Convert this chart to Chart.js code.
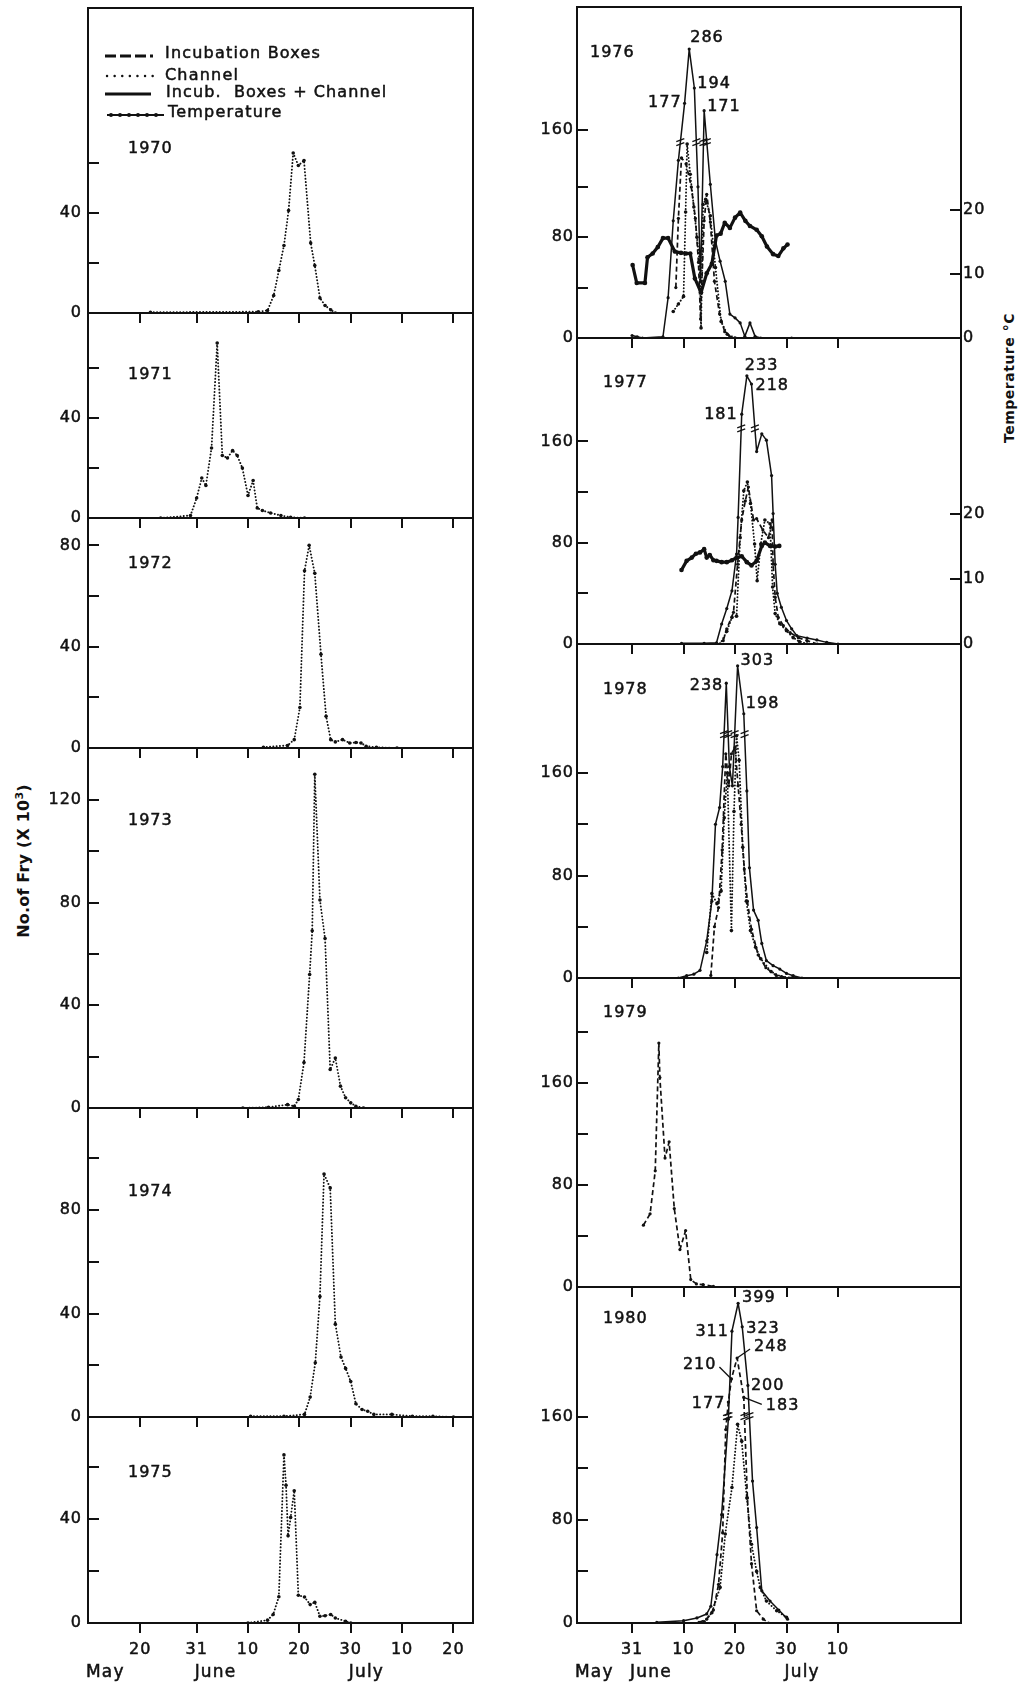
<!DOCTYPE html>
<html>
<head>
<meta charset="utf-8">
<title>Fry emergence 1970-1980</title>
<script src="https://cdn.jsdelivr.net/npm/chart.js@4.4.1/dist/chart.umd.min.js"></script>
<style>
  html, body { margin: 0; padding: 0; background: #fff; }
  body { position: relative; width: 1023px; height: 1684px; overflow: hidden;
         font-family: "DejaVu Sans", sans-serif; color: #111; }
  canvas { position: absolute; }
  .vtitle { position: absolute; white-space: nowrap; transform: translate(-50%, -50%) rotate(-90deg); }
  #fryTitle { left: 23px; top: 861px; font-size: 16px; font-weight: bold; letter-spacing: 0.2px; }
  #tempTitle { left: 1009px; top: 378px; font-size: 14px; font-weight: bold; letter-spacing: 0.5px; }
  sup { font-size: 11px; vertical-align: 6px; line-height: 0; }
</style>
</head>
<body>
<div id="fryTitle" class="vtitle">No.of Fry (X 10<sup>3</sup>)</div>
<div id="tempTitle" class="vtitle">Temperature °C</div>
<script>
const FONT = '"DejaVu Sans", sans-serif';
const INK = "#111";

// x values are day numbers counted from 1 May: 31 = 31 May, 41 = 10 June, 61 = 30 June, 71 = 10 July
const leftTickDays = [20, 31, 41, 51, 61, 71, 81];
const leftTickText = ["20", "31", "10", "20", "30", "10", "20"];
const rightTickDays = [31, 41, 51, 61, 71];
const rightTickText = ["31", "10", "20", "30", "10"];
const monthNames = ["May", "June", "July"];
const monthFirstDay = [1, 31, 61];
const tempTicks = [0, 10, 20];

const yTicks1970 = [0, 20, 40, 60];
const yTicks1971 = [0, 20, 40, 60];
const yTicks1972 = [0, 20, 40, 60, 80];
const yTicks1973 = [0, 20, 40, 60, 80, 100, 120];
const yTicks1974 = [0, 20, 40, 60, 80, 100];
const yTicks1975 = [0, 20, 40, 60];
const yTicksRight = [0, 40, 80, 120, 160];
const yTicks1979 = [0, 40, 80, 120, 160, 200];

// fry counts (thousands); 1970-75 channel only
const days1970 = [22, 43, 44.8, 46, 47, 48, 48.9, 49.8, 50.8, 51.9, 53.2, 54, 55, 56, 57.1, 58];
const chan1970 = [0.3, 0.5, 1, 7, 17, 27, 41, 64, 59, 61, 28, 19, 6, 3, 1.3, 0];

const days1971 = [24, 29.8, 31, 32, 32.8, 33.9, 35, 36, 37, 38, 38.9, 39.9, 41, 42, 42.8, 43.8, 45.4, 47.4, 49.3, 52];
const chan1971 = [0, 1, 8, 16, 13, 28, 70, 25, 24, 27, 25, 20, 9, 15, 4, 3, 2, 1, 0.3, 0];

const days1972 = [44, 48.7, 50, 51.1, 52, 52.9, 54, 55.2, 56.2, 57.1, 58, 59.4, 60.8, 62, 63, 64, 66, 70];
const chan1972 = [0.3, 1, 3.3, 16, 70, 80, 69, 37, 12.5, 3.3, 2.4, 3.3, 2, 2.2, 2, 0.7, 0.3, 0];

const days1973 = [40, 45, 48.7, 50, 50.8, 51.9, 53, 53.5, 54, 55, 56, 57, 58, 59, 60, 61, 62, 63.5];
const chan1973 = [0, 0.3, 1.3, 0.7, 3.3, 17.7, 52, 69, 130, 81, 66, 15, 19.5, 8.5, 4, 2, 0.7, 0];

const days1974 = [41.5, 48, 52, 53.1, 54.1, 55, 55.8, 57, 58, 59.1, 60, 61, 62, 63.2, 64.3, 65.5, 69, 73, 77, 81];
const chan1974 = [0.3, 0.3, 1, 7.7, 21, 46.6, 94, 88.6, 35.9, 23.2, 18.8, 13.7, 5.1, 2.9, 2.2, 1, 1, 0.3, 0.3, 0];

const days1975 = [41, 44.8, 45.9, 47, 48, 48.4, 48.8, 49.3, 50, 50.8, 52, 53.1, 54, 55, 56, 57.1, 58, 60, 61];
const chan1975 = [0, 1.1, 3.3, 10.1, 64.8, 53.1, 33.6, 40.7, 51, 10.7, 10, 7.1, 8, 2.6, 2.8, 3.3, 1.9, 0.7, 0];

// 1976
const boxDays1976 = [39.5, 40, 40.6, 41.5, 42.5, 43.3, 43.9, 44.3, 45, 45.5, 46.2, 47, 48, 49, 50];
const box1976 = [40, 95, 143, 138, 120, 95, 60, 15, 93, 114, 92, 45, 19, 5, 1];
const chanDays1976 = [39, 40, 41, 41.4, 41.7, 42.3, 43, 43.6, 44.1, 44.4, 44.8, 45.3, 46.2, 47.2, 48.3, 49.5, 51];
const chan1976 = [21, 27, 33, 100, 154, 130, 104, 80, 61, 8, 106, 110, 97, 56, 13, 3, 0];
const bothDays1976 = [31, 32, 33, 37, 38, 39, 40, 41.2, 42.1, 43.1, 43.8, 44.3, 45, 46.2, 47.2, 48.1, 49.1, 50, 51, 52, 52.9, 53.9, 54.9, 56, 62];
const both1976 = [2, 1, 0, 1, 32, 93, 141, 177, 286, 194, 120, 45, 171, 122, 77, 61, 45, 19, 16, 12, 1.3, 12, 1.3, 0, 0];
const tempDays1976 = [31.1, 31.9, 33.5, 34, 35, 36, 37, 38, 39.3, 40.5, 41.5, 42.3, 43.2, 44.4, 45.5, 46.5, 47.4, 48.2, 49, 50, 51, 52, 53, 53.9, 55.2, 56.2, 57.2, 58.4, 59.4, 60.4, 61.2];
const temp1976 = [11.4, 8.6, 8.6, 12.6, 13.2, 14.2, 15.6, 15.6, 13.5, 13.3, 13.2, 13.2, 9.3, 7.1, 10.1, 11.6, 16.0, 16.3, 18.0, 17.2, 18.8, 19.6, 18.3, 17.5, 16.9, 15.9, 14.3, 13.1, 12.8, 14.0, 14.6];

// 1977
const boxDays1977 = [48.7, 49.4, 50.7, 51.5, 52.3, 53, 53.6, 54.6, 55.2, 56.4, 57.5, 58.2, 58.4, 58.8, 59.4, 60.4, 61.7, 63.3, 65, 67];
const box1977 = [2.6, 12, 25, 63, 98, 113, 124, 98, 99, 90, 84, 98, 63, 37, 21, 14.5, 9, 5, 2.6, 0];
const chanDays1977 = [48.1, 49.4, 50.4, 51.3, 52, 52.7, 53.4, 54, 54.8, 55.3, 56, 56.8, 57.8, 58.3, 58.8, 59.7, 61, 62.3, 63.5, 65];
const chan1977 = [0, 10, 21, 22, 84, 121, 128, 111, 79, 50, 79, 98, 95, 45, 24, 16, 10.5, 5, 2, 0];
const bothDays1977 = [40.6, 45, 47.4, 48.4, 49.4, 50.4, 51.3, 51.6, 52.3, 53.3, 54.2, 55.2, 56.2, 57.1, 58.1, 58.4, 58.8, 59.2, 60, 61, 62, 63, 65, 66.9, 68.8, 71];
const both1977 = [0.5, 0.5, 1, 15.8, 28, 42, 71, 100, 181, 233, 218, 152, 166, 161, 133, 103, 63, 40, 29, 18.5, 12, 6.6, 4.7, 3.2, 1.3, 0];
const tempDays1977 = [40.6, 41.6, 42.6, 43.4, 44.2, 45, 45.5, 46.1, 46.8, 47.4, 48.4, 49.4, 50.4, 51.3, 52.3, 53.3, 54.2, 55.2, 56.2, 56.8, 57.8, 58.8, 59.6];
const temp1977 = [11.4, 12.8, 13.3, 13.9, 14.1, 14.6, 13.3, 13.7, 12.9, 12.8, 12.6, 12.6, 12.9, 13.3, 13.5, 12.6, 12.1, 12.8, 15.1, 15.6, 15.1, 15.0, 15.1];

// 1978
const boxDays1978 = [46.3, 47, 47.8, 48.5, 49.2, 49.8, 50.3, 51, 51.6, 52.2, 52.8, 53.4, 54.2, 55.5, 57, 59, 61.5];
const box1978 = [2, 40, 55, 100, 175, 150, 175, 180, 150, 120, 85, 60, 38, 18, 8, 2, 0];
const chanDays1978 = [45.5, 46.5, 47.5, 48.3, 48.9, 49.5, 50.3, 50.8, 51.3, 51.8, 52.5, 53.2, 54, 55, 56, 58, 60, 62];
const chan1978 = [20, 66, 58, 68, 125, 160, 37, 130, 189, 170, 102, 60, 37, 24, 15, 5, 1, 0];
const bothDays1978 = [40, 41.6, 43, 44.2, 45.5, 46.5, 47.2, 48, 48.6, 49.3, 49.9, 50.5, 51.5, 52.7, 53.3, 53.8, 54.6, 55.5, 56.2, 57.1, 58.4, 59.7, 61, 62.3, 64];
const both1978 = [0, 1.8, 3, 6, 29, 60, 120, 133, 165, 238, 165, 150, 303, 198, 146, 86, 53, 45, 27, 13.5, 9.6, 7, 3.6, 1.8, 0];

// 1979
const boxDays1979 = [33.2, 34.5, 35.5, 36.2, 36.4, 37.4, 38.2, 39.2, 40.3, 41.4, 42.4, 43.5, 44.8, 46.8];
const box1979 = [48.4, 57.3, 91, 191, 164, 101, 113.7, 61.4, 29.3, 44.2, 5.8, 2.4, 1.8, 0.5];

// 1980
const boxDays1980 = [44, 45.5, 46.8, 47.8, 48.6, 49.2, 49.7, 50.3, 51.4, 52.7, 53.4, 54.2, 55.2, 56.5, 57.5];
const box1980 = [0.5, 3, 10, 30, 70, 150, 177, 210, 248, 183, 97, 46, 9.5, 3, 0];
const chanDays1980 = [45, 46.5, 48.1, 49.1, 50.4, 51.5, 52.3, 53.3, 54.2, 55.2, 55.9, 57.1, 59.1, 61];
const chan1980 = [1, 8, 27.6, 69, 105, 154, 141, 97, 61, 40, 27.6, 17, 9.5, 4.4];
const bothDays1980 = [35.8, 41, 43.6, 45.5, 46.3, 47.5, 48.4, 49.7, 50.4, 51.6, 52.4, 53.5, 54.4, 55.2, 56.2, 57.8, 59.5, 61.2];
const both1980 = [0.5, 1.8, 3.9, 7, 13, 53, 84, 158, 311, 399, 323, 200, 110, 74, 25, 17, 10, 3];

// count axis with a compressed (broken) upper part: above brkAt values are squeezed logarithmically
class BrokenScale extends Chart.LinearScale {
  static id = "broken";
  static defaults = Chart.LinearScale.defaults;
  squash(v) {
    const at = this.options.brkAt;
    if (!(v > at)) return v;
    return at + this.options.brkK * Math.log(1 + (v - at) / this.options.brkW);
  }
  unsquash(s) {
    const at = this.options.brkAt;
    if (!(s > at)) return s;
    return at + this.options.brkW * (Math.exp((s - at) / this.options.brkK) - 1);
  }
  getPixelForValue(value) {
    return super.getPixelForValue(value == null ? value : this.squash(value));
  }
  getValueForPixel(pixel) {
    return this.unsquash(super.getValueForPixel(pixel));
  }
}
Chart.register(BrokenScale);
Chart.defaults.font.family = FONT;
Chart.defaults.font.size = 16;
Chart.defaults.color = INK;

const COLS = {
  L: { left: 88, right: 473, axisW: 60, padR: 10, xMin: 9.85, xMax: 84.8, ticks: leftTickDays, text: leftTickText,
       yPad: 6, xPad: 7, monthDy: 50, every: 40 },
  R: { left: 577, right: 961, axisW: 60, padR: 40, xMin: 20.3, xMax: 94.9, ticks: rightTickDays, text: rightTickText,
       yPad: 3, xPad: 7, monthDy: 50, every: 80 },
};

const LOOK = {
  box:  { borderDash: [5, 3], borderWidth: 1.7, pointRadius: 1.6 },
  chan: { borderDash: [0.1, 3.2], borderCapStyle: "round", borderWidth: 1.9, pointRadius: 1.8 },
  both: { borderWidth: 1.5, pointRadius: 1.6 },
  temp: { borderWidth: 3.2, pointRadius: 2.3, yAxisID: "t" },
};

const panels = [
  { col: "L", top: 8, bottom: 313, yMax: 122, yTicks: yTicks1970, year: "1970", yearAt: [40, 141], key: true,
    series: [["chan", days1970, chan1970]] },
  { col: "L", top: 313, bottom: 518, yMax: 82, yTicks: yTicks1971, year: "1971", yearAt: [40, 62],
    series: [["chan", days1971, chan1971]] },
  { col: "L", top: 518, bottom: 748, yMax: 90.8, yTicks: yTicks1972, year: "1972", yearAt: [40, 46],
    series: [["chan", days1972, chan1972]] },
  { col: "L", top: 748, bottom: 1108, yMax: 140.2, yTicks: yTicks1973, year: "1973", yearAt: [40, 73],
    series: [["chan", days1973, chan1973]] },
  { col: "L", top: 1108, bottom: 1417, yMax: 119.5, yTicks: yTicks1974, year: "1974", yearAt: [40, 84],
    series: [["chan", days1974, chan1974]] },
  { col: "L", top: 1417, bottom: 1623, yMax: 79.4, yTicks: yTicks1975, year: "1975", yearAt: [40, 56], bottomAxis: true,
    series: [["chan", days1975, chan1975]] },

  { col: "R", top: 7, bottom: 338, yMax: 262.7, tMax: 51.7, brk: [155, 30, 12], yTicks: yTicksRight,
    year: "1976", yearAt: [13, 46],
    series: [["box", boxDays1976, box1976], ["chan", chanDays1976, chan1976],
             ["both", bothDays1976, both1976], ["temp", tempDays1976, temp1976]],
    notes: [["both", 286, 1, -11, "left"], ["both", 194, 3, -4, "left"],
            ["both", 177, -3, 0, "right"], ["both", 171, 3, -4, "left"]] },
  { col: "R", top: 338, bottom: 644, yMax: 241.7, tMax: 47.1, brk: [170, 37, 30], yTicks: yTicksRight,
    year: "1977", yearAt: [26, 45],
    series: [["box", boxDays1977, box1977], ["chan", chanDays1977, chan1977],
             ["both", bothDays1977, both1977], ["temp", tempDays1977, temp1977]],
    notes: [["both", 233, -2, -10, "left"], ["both", 218, 4, 2, "left"], ["both", 181, -4, 1, "right"]] },
  { col: "R", top: 644, bottom: 978, yMax: 260.7, brk: [190, 17, 5], yTicks: yTicksRight,
    year: "1978", yearAt: [26, 46],
    series: [["box", boxDays1978, box1978], ["chan", chanDays1978, chan1978], ["both", bothDays1978, both1978]],
    notes: [["both", 303, 3, -5, "left"], ["both", 238, -3, 3, "right"], ["both", 198, 2, -10, "left"]] },
  { col: "R", top: 978, bottom: 1287, yMax: 242, yTicks: yTicks1979,
    year: "1979", yearAt: [26, 35],
    series: [["box", boxDays1979, box1979]] },
  { col: "R", top: 1287, bottom: 1623, yMax: 260.5, brk: [160, 72, 100], yTicks: yTicksRight,
    year: "1980", yearAt: [26, 32], bottomAxis: true,
    series: [["box", boxDays1980, box1980], ["chan", chanDays1980, chan1980], ["both", bothDays1980, both1980]],
    notes: [["both", 399, 4, -5, "left"], ["both", 323, 4, 2, "left"], ["both", 311, -3, 1, "right"],
            ["both", 200, 3, 0, "left"], ["box", 248, 17, -11, "left", [13, -9]],
            ["box", 210, -15, -14, "right", [-12, -12]], ["box", 177, -3, 2, "right"],
            ["box", 183, 22, 8, "left", [18, 7]]] },
];

function seg(ctx, x1, y1, x2, y2) {
  ctx.beginPath();
  ctx.moveTo(x1, y1);
  ctx.lineTo(x2, y2);
  ctx.stroke();
}

function say(ctx, str, x, y, align, spacing, size) {
  ctx.font = (size || 16) + "px " + FONT;
  ctx.letterSpacing = (spacing == null ? 1 : spacing) + "px";
  ctx.textAlign = align || "left";
  ctx.textBaseline = "middle";
  ctx.lineWidth = 0.5;
  ctx.strokeText(str, x, y);
  ctx.fillText(str, x, y);
}

// line key in the top-left panel
function drawKey(ctx, a) {
  const x0 = a.left + 17, x1 = a.left + 65;
  ctx.lineCap = "butt";
  ctx.lineWidth = 3; ctx.setLineDash([11, 4]);
  seg(ctx, x0, a.top + 48, x1, a.top + 48);
  ctx.lineCap = "round"; ctx.lineWidth = 2.4; ctx.setLineDash([0.1, 7.5]);
  seg(ctx, x0 + 2, a.top + 68, x1, a.top + 68);
  ctx.lineCap = "butt"; ctx.lineWidth = 3; ctx.setLineDash([]);
  seg(ctx, x0, a.top + 86, x1 - 2, a.top + 86);
  ctx.lineWidth = 1.8;
  seg(ctx, x0 + 2, a.top + 107, a.left + 76, a.top + 107);
  for (let x = x0 + 6; x < a.left + 76; x += 9) {
    ctx.beginPath(); ctx.arc(x, a.top + 107, 2, 0, Math.PI * 2); ctx.fill();
  }
  say(ctx, "Incubation Boxes", a.left + 77, a.top + 46, "left", 1.2);
  say(ctx, "Channel", a.left + 77, a.top + 68, "left", 1.2);
  say(ctx, "Incub.  Boxes + Channel", a.left + 78, a.top + 85, "left", 1.1);
  say(ctx, "Temperature", a.left + 80, a.top + 105, "left", 1.2);
}

// double-slash marks where a line passes the axis break
function drawBreaks(chart, at) {
  const { ctx, scales } = chart;
  const yb = scales.y.getPixelForValue(at);
  ctx.lineWidth = 1.3;
  chart.data.datasets.forEach((ds, di) => {
    if (ds.yAxisID === "t") return;
    const pts = chart.getDatasetMeta(di).data;
    for (let i = 1; i < pts.length; i++) {
      const v0 = ds.data[i - 1].y, v1 = ds.data[i].y;
      if ((v0 <= at) === (v1 <= at)) continue;
      const p0 = pts[i - 1], p1 = pts[i];
      const t = (yb - p0.y) / (p1.y - p0.y);
      const x = p0.x + t * (p1.x - p0.x);
      seg(ctx, x - 4, yb - 1, x + 4, yb - 4);
      seg(ctx, x - 4, yb + 3, x + 4, yb);
    }
  });
}

function decorFor(p, col) {
  return {
    id: "decor",
    beforeDraw(chart) {
      chart.ctx.letterSpacing = "1px";
    },
    afterDraw(chart) {
      const { ctx, chartArea: a, scales } = chart;
      ctx.save();
      ctx.strokeStyle = INK;
      ctx.fillStyle = INK;
      ctx.lineWidth = 2;
      ctx.setLineDash([]);
      ctx.strokeRect(a.left, a.top, a.right - a.left, a.bottom - a.top);
      // count ticks point inwards from the left edge, temperature ticks from the right edge
      scales.y.ticks.forEach(t => {
        const y = Math.round(scales.y.getPixelForValue(t.value));
        seg(ctx, a.left, y, a.left + 11, y);
      });
      if (scales.t) {
        scales.t.ticks.forEach(t => {
          const y = Math.round(scales.t.getPixelForValue(t.value));
          seg(ctx, a.right - 11, y, a.right, y);
        });
      }
      if (p.brk) drawBreaks(chart, p.brk[0]);

      say(ctx, p.year, a.left + p.yearAt[0], a.top + p.yearAt[1]);

      (p.notes || []).forEach(([key, value, dx, dy, align, leader]) => {
        const di = chart.data.datasets.findIndex(d => d.key === key);
        const i = chart.data.datasets[di].data.findIndex(pt => pt.y === value);
        const el = chart.getDatasetMeta(di).data[i];
        if (leader) {
          ctx.lineWidth = 1.3;
          seg(ctx, el.x, el.y, el.x + leader[0], el.y + leader[1]);
        }
        say(ctx, String(value), el.x + dx, el.y + dy, align);
      });

      if (p.key) drawKey(ctx, a);

      if (p.bottomAxis) {
        monthNames.forEach((m, i) => {
          const x = scales.x.getPixelForValue(Math.max(monthFirstDay[i], scales.x.min)) - 2;
          say(ctx, m, x, a.bottom + col.monthDy, "left", 1.2, 17);
        });
      }
      ctx.restore();
    }
  };
}

panels.forEach(p => {
  const col = COLS[p.col];
  const topPad = 12;
  const bottomH = p.bottomAxis ? 60 : 14;
  const hasTemp = p.series.some(s => s[0] === "temp");

  const cv = document.createElement("canvas");
  cv.width = col.axisW + (col.right - col.left) + col.padR;
  cv.height = topPad + (p.bottom - p.top) + bottomH;
  cv.style.left = (col.left - col.axisW) + "px";
  cv.style.top = (p.top - topPad) + "px";
  document.body.appendChild(cv);

  const datasets = p.series.map(([key, days, vals]) => Object.assign({
    key: key,
    data: days.map((d, i) => ({ x: d, y: vals[i] })),
    borderColor: INK,
    backgroundColor: INK,
    pointBackgroundColor: INK,
    pointBorderWidth: 0,
    borderJoinStyle: "round",
    tension: 0,
    fill: false,
  }, LOOK[key]));

  const tickFont = { textStrokeColor: INK, textStrokeWidth: 0.5 };
  const scales = {
    x: {
      type: "linear", min: col.xMin, max: col.xMax, bounds: "data",
      afterBuildTicks: s => { s.ticks = col.ticks.map(v => ({ value: v })); },
      afterFit: s => { s.height = bottomH; s.paddingLeft = 0; s.paddingRight = 0; },
      grid: { display: true, drawOnChartArea: false, drawTicks: true, tickLength: 10, lineWidth: 2, color: INK },
      border: { display: false },
      ticks: Object.assign({ display: !!p.bottomAxis, padding: col.xPad, maxRotation: 0, autoSkip: false,
               callback: v => col.text[col.ticks.indexOf(v)] }, tickFont),
    },
    y: {
      type: "broken", position: "left", min: 0, max: p.yMax, bounds: "data",
      brkAt: p.brk ? p.brk[0] : Infinity, brkK: p.brk ? p.brk[1] : 1, brkW: p.brk ? p.brk[2] : 1,
      afterBuildTicks: s => { s.ticks = p.yTicks.map(v => ({ value: v })); },
      afterFit: s => { s.width = col.axisW; s.paddingTop = 0; s.paddingBottom = 0; },
      grid: { display: false, drawTicks: false },
      border: { display: false },
      ticks: Object.assign({ padding: col.yPad, callback: v => (v % col.every === 0 ? String(v) : "") }, tickFont),
    },
  };
  if (hasTemp) {
    scales.t = {
      type: "linear", position: "right", min: 0, max: p.tMax, bounds: "data",
      afterBuildTicks: s => { s.ticks = tempTicks.map(v => ({ value: v })); },
      afterFit: s => { s.width = col.padR; s.paddingTop = 0; s.paddingBottom = 0; },
      grid: { display: false, drawTicks: false },
      border: { display: false },
      ticks: Object.assign({ padding: 2 }, tickFont),
    };
  }

  new Chart(cv, {
    type: "line",
    data: { datasets },
    options: {
      responsive: false,
      animation: false,
      events: [],
      layout: { padding: { top: topPad, left: 0, bottom: 0, right: hasTemp ? 0 : col.padR }, autoPadding: false },
      plugins: { legend: { display: false }, tooltip: { enabled: false } },
      scales,
    },
    plugins: [decorFor(p, col)],
  });
});
</script>
</body>
</html>
